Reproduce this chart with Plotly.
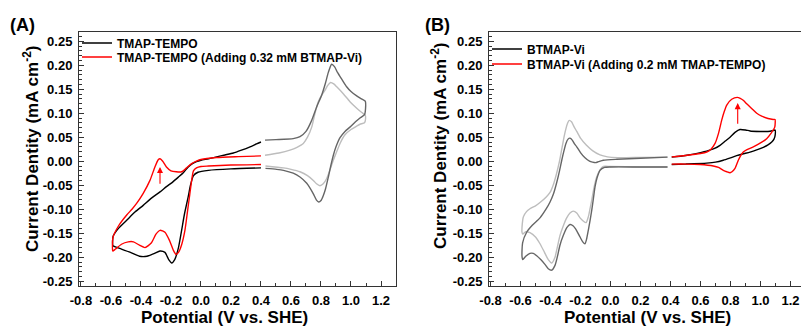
import plotly.graph_objects as go

# ---------------- data: cyclic voltammograms (V vs. SHE, mA cm^-2) ----------------
# Panel A, TMAP-TEMPO: highlighted part (-0.6 .. 0.4 V)
a_black_x = [0.40, 0.20, 0.05, -0.02, -0.05, -0.07, -0.085, -0.11, -0.129, -0.15, -0.175, -0.195,
             -0.215, -0.24, -0.273, -0.31, -0.36, -0.41, -0.47, -0.53, -0.575, -0.587, -0.589, -0.585,
             -0.55, -0.495, -0.44, -0.385, -0.33, -0.273, -0.23, -0.187, -0.15, -0.118, -0.085, -0.062,
             -0.03, 0.0, 0.05, 0.104, 0.16, 0.216, 0.27, 0.327, 0.37, 0.40]
a_black_y = [-0.014, -0.016, -0.019, -0.023, -0.03, -0.05, -0.074, -0.11, -0.144, -0.18, -0.205, -0.212,
             -0.205, -0.19, -0.187, -0.192, -0.198, -0.198, -0.19, -0.183, -0.178, -0.176, -0.165, -0.156,
             -0.14, -0.123, -0.106, -0.092, -0.077, -0.064, -0.053, -0.043, -0.033, -0.024, -0.012, -0.006,
             -0.001, 0.002, 0.005, 0.009, 0.013, 0.017, 0.023, 0.03, 0.036, 0.04]

# Panel A, TMAP-TEMPO with 0.32 mM BTMAP-Vi
a_red_x = [0.40, 0.20, 0.05, 0.0, -0.03, -0.05, -0.062, -0.075, -0.09, -0.107, -0.13, -0.15, -0.167,
           -0.185, -0.21, -0.24, -0.273, -0.30, -0.33, -0.373, -0.41, -0.45, -0.485, -0.53, -0.57,
           -0.588, -0.59, -0.586, -0.55, -0.495, -0.46, -0.429, -0.385, -0.34, -0.307, -0.285, -0.273,
           -0.255, -0.23, -0.20, -0.165, -0.129, -0.10, -0.062, -0.03, 0.0, 0.104, 0.25, 0.40]
a_red_y = [-0.007, -0.008, -0.01, -0.011, -0.014, -0.02, -0.04, -0.07, -0.105, -0.144, -0.175, -0.19,
           -0.194, -0.185, -0.165, -0.148, -0.144, -0.152, -0.17, -0.18, -0.175, -0.168, -0.168, -0.173,
           -0.183, -0.187, -0.175, -0.158, -0.135, -0.112, -0.10, -0.088, -0.067, -0.04, -0.012, 0.003,
           0.005, 0.0, -0.012, -0.02, -0.022, -0.022, -0.015, -0.005, 0.0, 0.0035, 0.0076, 0.0095, 0.011]

# Panel A, TMAP-TEMPO: remaining part (0.43 .. 1.1 V)
a_dgrey_x = [0.427, 0.50, 0.615, 0.66, 0.70, 0.738, 0.771, 0.805, 0.83, 0.849, 0.871, 0.89, 0.91,
             0.94, 0.971, 1.0, 1.038, 1.07, 1.095, 1.097, 1.09, 1.06, 1.03, 0.993, 0.96, 0.927, 0.90,
             0.882, 0.865, 0.849, 0.83, 0.815, 0.80, 0.785, 0.77, 0.749, 0.725, 0.705, 0.66, 0.615,
             0.55, 0.505, 0.43]
a_dgrey_y = [0.044, 0.045, 0.047, 0.051, 0.062, 0.085, 0.113, 0.138, 0.163, 0.185, 0.202, 0.197, 0.185,
             0.17, 0.155, 0.145, 0.136, 0.13, 0.125, 0.11, 0.097, 0.09, 0.082, 0.071, 0.062, 0.049, 0.03,
             0.012, -0.01, -0.033, -0.058, -0.072, -0.082, -0.085, -0.081, -0.068, -0.055, -0.046, -0.033,
             -0.025, -0.019, -0.017, -0.015]

# Panel A, TMAP-TEMPO with BTMAP-Vi: remaining part (0.43 .. 1.1 V)
a_lgrey_x = [0.427, 0.52, 0.593, 0.64, 0.682, 0.71, 0.738, 0.76, 0.782, 0.80, 0.827, 0.845, 0.864,
             0.885, 0.905, 0.95, 0.993, 1.04, 1.07, 1.095, 1.097, 1.09, 1.06, 1.038, 1.0, 0.96, 0.927,
             0.90, 0.882, 0.86, 0.838, 0.815, 0.793, 0.77, 0.749, 0.71, 0.66, 0.60, 0.549, 0.43]
a_lgrey_y = [0.0125, 0.017, 0.023, 0.029, 0.037, 0.05, 0.071, 0.10, 0.124, 0.135, 0.148, 0.158, 0.164,
             0.161, 0.155, 0.14, 0.124, 0.11, 0.102, 0.096, 0.088, 0.08, 0.077, 0.073, 0.066, 0.055, 0.037,
             0.016, 0.002, -0.018, -0.036, -0.047, -0.051, -0.047, -0.04, -0.03, -0.022, -0.017, -0.014,
             -0.01]

# Panel B, BTMAP-Vi: remaining part (-0.6 .. 0.38 V)
b_dgrey_x = [0.38, 0.20, 0.0, -0.04, -0.07, -0.09, -0.103, -0.115, -0.125, -0.137, -0.148, -0.16, -0.17,
             -0.185, -0.203, -0.225, -0.248, -0.27, -0.29, -0.315, -0.337, -0.355, -0.37, -0.392, -0.415,
             -0.437, -0.465, -0.492, -0.515, -0.537, -0.565, -0.585, -0.59, -0.586, -0.559, -0.52, -0.47,
             -0.43, -0.403, -0.38, -0.359, -0.34, -0.325, -0.31, -0.297, -0.283, -0.27, -0.255, -0.24,
             -0.225, -0.20, -0.17, -0.14, -0.12, -0.10, -0.08, -0.048, 0.041, 0.20, 0.38]
b_dgrey_y = [-0.012, -0.012, -0.012, -0.013, -0.019, -0.035, -0.053, -0.08, -0.102, -0.125, -0.144, -0.163,
             -0.172, -0.168, -0.158, -0.145, -0.135, -0.132, -0.138, -0.155, -0.175, -0.20, -0.217, -0.227,
             -0.224, -0.215, -0.205, -0.197, -0.192, -0.192, -0.198, -0.205, -0.198, -0.17, -0.148, -0.133,
             -0.118, -0.10, -0.085, -0.068, -0.045, -0.02, 0.002, 0.022, 0.037, 0.046, 0.048, 0.044, 0.036,
             0.03, 0.018, 0.007, 0.0, -0.002, -0.003, -0.001, 0.002, 0.004, 0.006, 0.0085]

# Panel B, BTMAP-Vi with TMAP-TEMPO: remaining part (-0.6 .. 0.38 V)
b_lgrey_x = [0.38, 0.20, 0.0, -0.048, -0.07, -0.092, -0.11, -0.125, -0.137, -0.148, -0.163, -0.18, -0.203,
             -0.225, -0.248, -0.27, -0.292, -0.315, -0.337, -0.355, -0.37, -0.392, -0.415, -0.44, -0.47,
             -0.50, -0.537, -0.565, -0.585, -0.59, -0.588, -0.581, -0.56, -0.537, -0.50, -0.47, -0.43,
             -0.403, -0.38, -0.359, -0.34, -0.325, -0.31, -0.297, -0.285, -0.275, -0.26, -0.245, -0.225,
             -0.20, -0.16, -0.12, -0.07, -0.02, 0.05, 0.20, 0.38]
b_lgrey_y = [-0.012, -0.012, -0.011, -0.011, -0.018, -0.033, -0.055, -0.081, -0.10, -0.116, -0.128, -0.125,
             -0.118, -0.108, -0.104, -0.108, -0.118, -0.135, -0.155, -0.18, -0.20, -0.212, -0.205, -0.19,
             -0.172, -0.158, -0.149, -0.147, -0.152, -0.148, -0.13, -0.116, -0.105, -0.099, -0.093, -0.086,
             -0.075, -0.065, -0.048, -0.025, 0.0, 0.025, 0.05, 0.068, 0.08, 0.085, 0.082, 0.073, 0.062,
             0.048, 0.033, 0.022, 0.013, 0.009, 0.0075, 0.008, 0.0085]

# Panel B, BTMAP-Vi: highlighted part (0.41 .. 1.1 V)
b_black_x = [0.408, 0.50, 0.60, 0.641, 0.69, 0.73, 0.765, 0.797, 0.83, 0.863, 0.90, 0.93, 0.997, 1.05,
             1.085, 1.097, 1.098, 1.09, 1.075, 1.05, 1.019, 0.97, 0.93, 0.88, 0.841, 0.80, 0.752, 0.70,
             0.641, 0.50, 0.408]
b_black_y = [0.0085, 0.012, 0.018, 0.021, 0.026, 0.033, 0.042, 0.05, 0.06, 0.066, 0.065, 0.063, 0.062,
             0.062, 0.064, 0.065, 0.055, 0.046, 0.04, 0.034, 0.029, 0.023, 0.019, 0.015, 0.0115, 0.007,
             0.002, -0.002, -0.004, -0.006, -0.007]

# Panel B, BTMAP-Vi with 0.2 mM TMAP-TEMPO
b_red_x = [0.408, 0.50, 0.60, 0.641, 0.67, 0.697, 0.72, 0.741, 0.76, 0.775, 0.808, 0.845, 0.865, 0.885,
           0.91, 0.941, 0.975, 1.008, 1.05, 1.085, 1.097, 1.098, 1.095, 1.07, 1.041, 1.0, 0.952, 0.91,
           0.885, 0.865, 0.852, 0.83, 0.81, 0.797, 0.775, 0.752, 0.72, 0.685, 0.597, 0.50, 0.408]
b_red_y = [0.009, 0.012, 0.016, 0.019, 0.025, 0.037, 0.058, 0.085, 0.105, 0.117, 0.129, 0.133, 0.131, 0.127,
           0.119, 0.11, 0.10, 0.094, 0.089, 0.087, 0.087, 0.08, 0.071, 0.058, 0.047, 0.038, 0.03, 0.024,
           0.019, 0.01, 0.002, -0.015, -0.022, -0.024, -0.022, -0.019, -0.013, -0.01, -0.007, -0.006, -0.006]

# arrows marking the peak growth: (x, tail y, head y)
arrow_a = (-0.273, -0.050, -0.012)
arrow_b = (0.848, 0.075, 0.121)

# tick labels
x_tick_vals = [-0.8, -0.6, -0.4, -0.2, 0.0, 0.2, 0.4, 0.6, 0.8, 1.0, 1.2]
x_tick_text = ["-0.8", "-0.6", "-0.4", "-0.2", "0.0", "0.2", "0.4", "0.6", "0.8", "1.0", "1.2"]
y_tick_vals = [0.25, 0.20, 0.15, 0.10, 0.05, 0.0, -0.05, -0.10, -0.15, -0.20, -0.25]
y_tick_text = ["0.25", "0.20", "0.15", "0.10", "0.05", "0.00", "-0.05", "-0.10", "-0.15", "-0.20", "-0.25"]

legend_a = ["TMAP-TEMPO", "TMAP-TEMPO (Adding 0.32 mM BTMAP-Vi)"]
legend_b = ["BTMAP-Vi", "BTMAP-Vi (Adding 0.2 mM TMAP-TEMPO)"]

# ---------------- figure ----------------
W, H = 801, 326
FONT = "Liberation Sans, Arial, sans-serif"
BLACK, RED, DGREY, LGREY = "#000000", "#ff0000", "#666666", "#bdbdbd"


def px_x(p):
    return p / W


def px_y(p):
    return 1 - p / H


def line(x, y, color, xa, ya, name=None, legend=None):
    return go.Scatter(
        x=x, y=y, mode="lines", xaxis=xa, yaxis=ya,
        line=dict(color=color, width=1.4, shape="spline", smoothing=0.6),
        name=name, showlegend=name is not None, legend=legend, hoverinfo="skip",
    )


fig = go.Figure()
# grey parts first so the coloured parts sit on top
fig.add_trace(line(a_lgrey_x, a_lgrey_y, LGREY, "x", "y"))
fig.add_trace(line(a_dgrey_x, a_dgrey_y, DGREY, "x", "y"))
fig.add_trace(line(a_black_x, a_black_y, BLACK, "x", "y", legend_a[0], "legend"))
fig.add_trace(line(a_red_x, a_red_y, RED, "x", "y", legend_a[1], "legend2"))

fig.add_trace(line(b_lgrey_x, b_lgrey_y, LGREY, "x2", "y2"))
fig.add_trace(line(b_dgrey_x, b_dgrey_y, DGREY, "x2", "y2"))
fig.add_trace(line(b_black_x, b_black_y, BLACK, "x2", "y2", legend_b[0], "legend3"))
fig.add_trace(line(b_red_x, b_red_y, RED, "x2", "y2", legend_b[1], "legend4"))

tick_font = dict(family=FONT, size=13, color="#000", weight="bold")
ydom = [px_y(286), px_y(31.6)]


def xaxis(domain, rng, anchor):
    return dict(
        domain=domain, range=rng, anchor=anchor,
        showline=True, linecolor="#333", linewidth=1, mirror=True,
        ticks="inside", ticklen=5, tickwidth=1, tickcolor="#333",
        tickvals=x_tick_vals, ticktext=x_tick_text, tickfont=tick_font, ticklabelstandoff=2,
        minor=dict(ticks="inside", ticklen=3, dtick=0.1, tick0=0, tickcolor="#333"),
        showgrid=False, zeroline=False, fixedrange=True, automargin=False,
    )


def yaxis(rng, anchor, mirror):
    return dict(
        domain=ydom, range=rng, anchor=anchor,
        showline=True, linecolor="#333", linewidth=1, mirror=mirror,
        ticks="inside", ticklen=5, tickwidth=1, tickcolor="#333",
        tickvals=y_tick_vals, ticktext=y_tick_text, tickfont=tick_font, ticklabelstandoff=3,
        minor=dict(ticks="inside", ticklen=2.5, dtick=0.01, tick0=0, tickcolor="#333"),
        showgrid=False, zeroline=False, fixedrange=True, automargin=False,
    )


legend_font = dict(family=FONT, size=12, color="#000", weight="bold")


def legend_at(xp, yp):
    return dict(x=px_x(xp), y=px_y(yp), xanchor="left", yanchor="top",
                bgcolor="rgba(0,0,0,0)", font=legend_font, tracegroupgap=0)


fig.update_layout(
    width=W, height=H, autosize=False,
    margin=dict(l=0, r=0, t=0, b=0, pad=0),
    paper_bgcolor="white", plot_bgcolor="white",
    xaxis=xaxis([px_x(79), px_x(396)], [-0.813, 1.3], "y"),
    yaxis=yaxis([-0.26, 0.27], "x", True),
    xaxis2=xaxis([px_x(489), 1.0], [-0.81, 1.27], "y2"),
    yaxis2=yaxis([-0.26, 0.27], "x2", False),
    legend=legend_at(77, 28.5),
    legend2=legend_at(77, 42.5),
    legend3=legend_at(487, 34.5),
    legend4=legend_at(487, 49.5),
    showlegend=True,
)

# arrows
for (ax_x, tail, head), xr, yr in [(arrow_a, "x", "y"), (arrow_b, "x2", "y2")]:
    fig.add_annotation(
        x=ax_x, y=head, ax=ax_x, ay=tail, xref=xr, yref=yr, axref=xr, ayref=yr,
        showarrow=True, arrowhead=2, arrowsize=1.1, arrowwidth=1.1, arrowcolor=RED, text="",
    )

title_font = dict(family=FONT, size=17, color="#000", weight="bold")
ytitle = "Current Dentity (mA cm<sup>-2</sup>)"
xtitle = "Potential (V vs. SHE)"
annots = [
    ("(A)", 22, 25, 0, dict(family=FONT, size=18, color="#000", weight="bold")),
    ("(B)", 437, 25, 0, dict(family=FONT, size=18, color="#000", weight="bold")),
    (ytitle, 31, 149, -90, title_font),
    (ytitle, 439, 146, -90, title_font),
    (xtitle, 224, 317.5, 0, title_font),
    (xtitle, 647, 317.5, 0, title_font),
]
for text, xp, yp, ang, f in annots:
    fig.add_annotation(
        x=px_x(xp), y=px_y(yp), xref="paper", yref="paper", text=text, showarrow=False,
        textangle=ang, font=f, xanchor="center", yanchor="middle",
    )

fig.write_html("out.html")
